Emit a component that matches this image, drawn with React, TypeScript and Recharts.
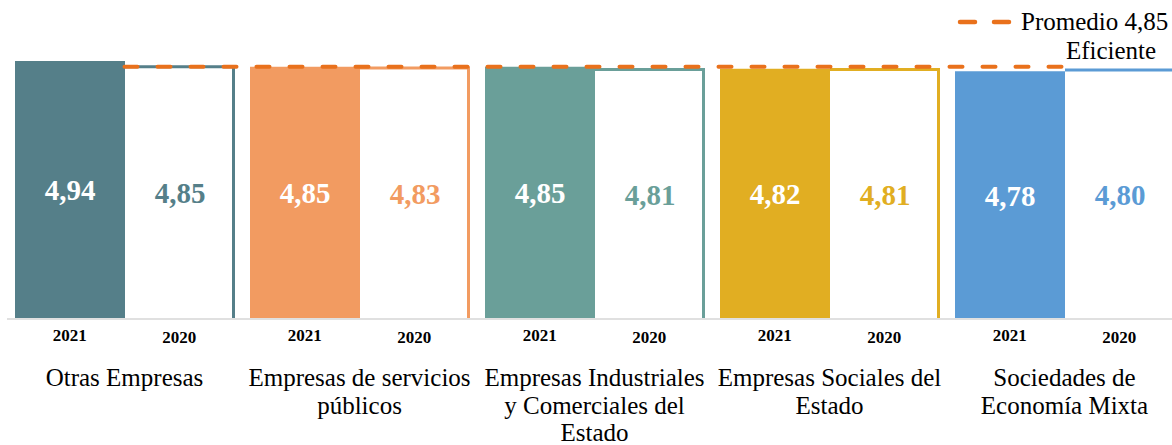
import React from "react";
import { ComposedChart, Bar, Line, XAxis, YAxis, Cell, LabelList } from "recharts";

const groupNames = [
  "Otras Empresas",
  "Empresas de servicios públicos",
  "Empresas Industriales y Comerciales del Estado",
  "Empresas Sociales del Estado",
  "Sociedades de Economía Mixta",
];
const groupLines = [
  ["Otras Empresas"],
  ["Empresas de servicios", "públicos"],
  ["Empresas Industriales", "y Comerciales del", "Estado"],
  ["Empresas Sociales del", "Estado"],
  ["Sociedades de", "Economía Mixta"],
];
const years = ["2021", "2020"];
const values2021 = [4.94, 4.85, 4.85, 4.82, 4.78];
const values2020 = [4.85, 4.83, 4.81, 4.81, 4.8];
const promedio = [4.85, 4.85, 4.85, 4.85, 4.85];
const colors = ["#557F89", "#F29B61", "#6A9F99", "#E1AE22", "#5B9BD5"];
const gridTicks = [0, 1, 2, 3, 4, 5];

const FONT = "'Liberation Serif', 'DejaVu Serif', 'Times New Roman', serif";
const ORANGE = "#E9711C";

const data = groupNames.map((name, i) => ({
  name,
  y2021: values2021[i],
  y2020: values2020[i],
  promedio: promedio[i],
}));

const fmt = (v: number) => v.toFixed(2).replace(".", ",");

const GroupTick = (props: any) => {
  const { x, y, payload } = props;
  const i = payload.index;
  const lines = groupLines[i] || [];
  return (
    <g style={{ fontFamily: FONT }} fill="#000">
      <text x={x - 54.75} y={y + 23} textAnchor="middle" fontWeight="bold" fontSize={17}>
        {years[0]}
      </text>
      <text x={x + 54.75} y={y + 25} textAnchor="middle" fontWeight="bold" fontSize={17}>
        {years[1]}
      </text>
      {lines.map((l, k) => (
        <text key={k} x={x} y={y + 68 + k * 27.5} textAnchor="middle" fontSize={25}>
          {l}
        </text>
      ))}
    </g>
  );
};

const OutlineBar = (props: any) => {
  const { x, y, width, height, index } = props;
  const c = colors[index];
  return (
    <g>
      <rect x={x} y={y} width={width} height={height} fill="#fff" />
      <path
        d={`M${x},${y} H${x + width - 1.5} V${y + height}`}
        stroke={c}
        strokeWidth={3}
        fill="none"
      />
    </g>
  );
};

const makeValueLabel = (inside: boolean) => (props: any) => {
  const { x, y, width, height, value, index } = props;
  return (
    <text
      x={x + width / 2}
      y={y + height / 2 + 11}
      textAnchor="middle"
      style={{ fontFamily: FONT }}
      fontWeight="bold"
      fontSize={29}
      fill={inside ? "#fff" : colors[index]}
    >
      {fmt(value)}
    </text>
  );
};

export default function App() {
  return (
    <div
      style={{
        position: "fixed",
        left: 0,
        top: 0,
        width: 1172,
        height: 445,
        overflow: "hidden",
        background: "#fff",
        fontFamily: FONT,
      }}
    >
      <ComposedChart
        width={1190}
        height={445}
        data={data}
        margin={{ top: 57, right: 8, bottom: 125, left: 7 }}
        barCategoryGap={8}
        barGap={0}
      >
        <XAxis
          xAxisId="grid"
          type="number"
          domain={[0, 5]}
          ticks={gridTicks}
          allowDataOverflow
          tick={false}
          tickSize={8}
          height={1}
          axisLine={{ stroke: "#D6D6D6", strokeWidth: 1.5 }}
          tickLine={{ stroke: "#D6D6D6", strokeWidth: 1.5 }}
        />
        <XAxis
          xAxisId="cat"
          dataKey="name"
          interval={0}
          height={1}
          axisLine={false}
          tickLine={false}
          tickSize={0}
          tickMargin={0}
          tick={<GroupTick />}
        />
        <YAxis hide domain={[1, 5]} allowDataOverflow />
        <Bar xAxisId="cat" dataKey="y2021" isAnimationActive={false}>
          {data.map((_, i) => (
            <Cell key={i} fill={colors[i]} />
          ))}
          <LabelList dataKey="y2021" content={makeValueLabel(true)} />
        </Bar>
        <Bar xAxisId="cat" dataKey="y2020" shape={<OutlineBar />} isAnimationActive={false}>
          <LabelList dataKey="y2020" content={makeValueLabel(false)} />
        </Bar>
        <Line
          xAxisId="cat"
          dataKey="promedio"
          type="linear"
          stroke={ORANGE}
          strokeWidth={4}
          strokeDasharray="13 20"
          strokeLinecap="round"
          dot={false}
          activeDot={false}
          isAnimationActive={false}
        />
      </ComposedChart>
      <svg
        width={1172}
        height={445}
        style={{ position: "absolute", left: 0, top: 0, pointerEvents: "none", fontFamily: FONT }}
      >
        <line x1={960} y1={22} x2={975} y2={22} stroke={ORANGE} strokeWidth={4.5} strokeLinecap="round" />
        <line x1={994} y1={22} x2={1009} y2={22} stroke={ORANGE} strokeWidth={4.5} strokeLinecap="round" />
        <text x={1021} y={30} fontSize={25} fill="#000">
          Promedio 4,85
        </text>
        <text x={1111} y={59} textAnchor="middle" fontSize={25} fill="#000">
          Eficiente
        </text>
      </svg>
    </div>
  );
}
